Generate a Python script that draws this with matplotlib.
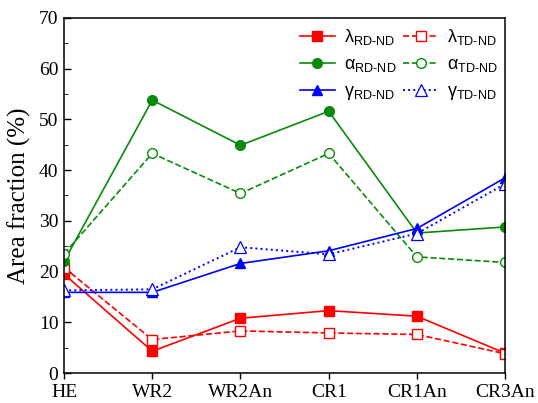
import matplotlib
matplotlib.use('Agg')
import matplotlib.pyplot as plt
from matplotlib.ticker import MultipleLocator

samples = ['HE', 'WR2', 'WR2An', 'CR1', 'CR1An', 'CR3An']
lam_rd = [19.5, 4.3, 10.8, 12.3, 11.2, 3.9]
lam_td = [20.8, 6.6, 8.3, 7.9, 7.6, 3.8]
alp_rd = [22.0, 53.8, 44.9, 51.6, 27.6, 28.8]
alp_td = [23.5, 43.3, 35.4, 43.3, 22.9, 21.8]
gam_rd = [15.9, 15.9, 21.6, 24.1, 28.5, 38.5]
gam_td = [16.3, 16.5, 24.8, 23.4, 27.5, 37.3]

plt.rcParams['font.family'] = 'Liberation Serif'
plt.rcParams['mathtext.fontset'] = 'custom'
plt.rcParams['mathtext.rm'] = 'Liberation Sans'
plt.rcParams['mathtext.it'] = 'Liberation Sans'

fig = plt.figure(figsize=(5.38, 4.03), dpi=100, facecolor='white')
ax = fig.add_axes([0.119, 0.0744, 0.82, 0.881])
x = range(len(samples))

sub_rd = '$_{\\mathrm{RD\\text{-}ND}}$'
sub_td = '$_{\\mathrm{TD\\text{-}ND}}$'
red, green, blue = '#ff0000', '#0a8a0a', '#0000ff'
ax.plot(x, lam_rd, 's-', color=red, ms=7, lw=1.2, label='λ' + sub_rd)
ax.plot(x, lam_td, 's--', color=red, mfc='white', ms=7, lw=1.2, label='λ' + sub_td)
ax.plot(x, alp_rd, 'o-', color=green, ms=7, lw=1.2, label='α' + sub_rd)
ax.plot(x, alp_td, 'o--', color=green, mfc='white', ms=7, lw=1.2, label='α' + sub_td)
ax.plot(x, gam_rd, '^-', color=blue, ms=7, lw=1.2, label='γ' + sub_rd)
ax.plot(x, gam_td, '^:', color=blue, mfc='white', ms=8, lw=1.4, mew=0.9, label='γ' + sub_td)

ax.set_xlim(0, 5)
ax.set_ylim(0, 70)
ax.set_xticks(list(x))
ax.set_xticklabels(samples, fontsize=14)
ax.yaxis.set_major_locator(MultipleLocator(10))
ax.yaxis.set_minor_locator(MultipleLocator(5))
ax.tick_params(axis='y', direction='in', labelsize=14, length=5, width=1, pad=4)
ax.tick_params(axis='y', which='minor', direction='in', length=3)
ax.tick_params(axis='x', direction='out', length=4, width=1, pad=4)
ax.set_ylabel('Area fraction (%)', fontsize=18, labelpad=6)
for s in ax.spines.values():
    s.set_linewidth(1.1)

h, l = ax.get_legend_handles_labels()
order = [0, 2, 4, 1, 3, 5]
ax.legend([h[i] for i in order], [l[i] for i in order], ncol=2, loc='upper right',
          frameon=False, prop={'family': 'Liberation Sans', 'size': 13},
          handlelength=1.9, columnspacing=0.4, handletextpad=0.5,
          labelspacing=0.5, bbox_to_anchor=(1.0, 0.995), borderaxespad=0.0)

fig.savefig('out.png', dpi=100, facecolor='white')
